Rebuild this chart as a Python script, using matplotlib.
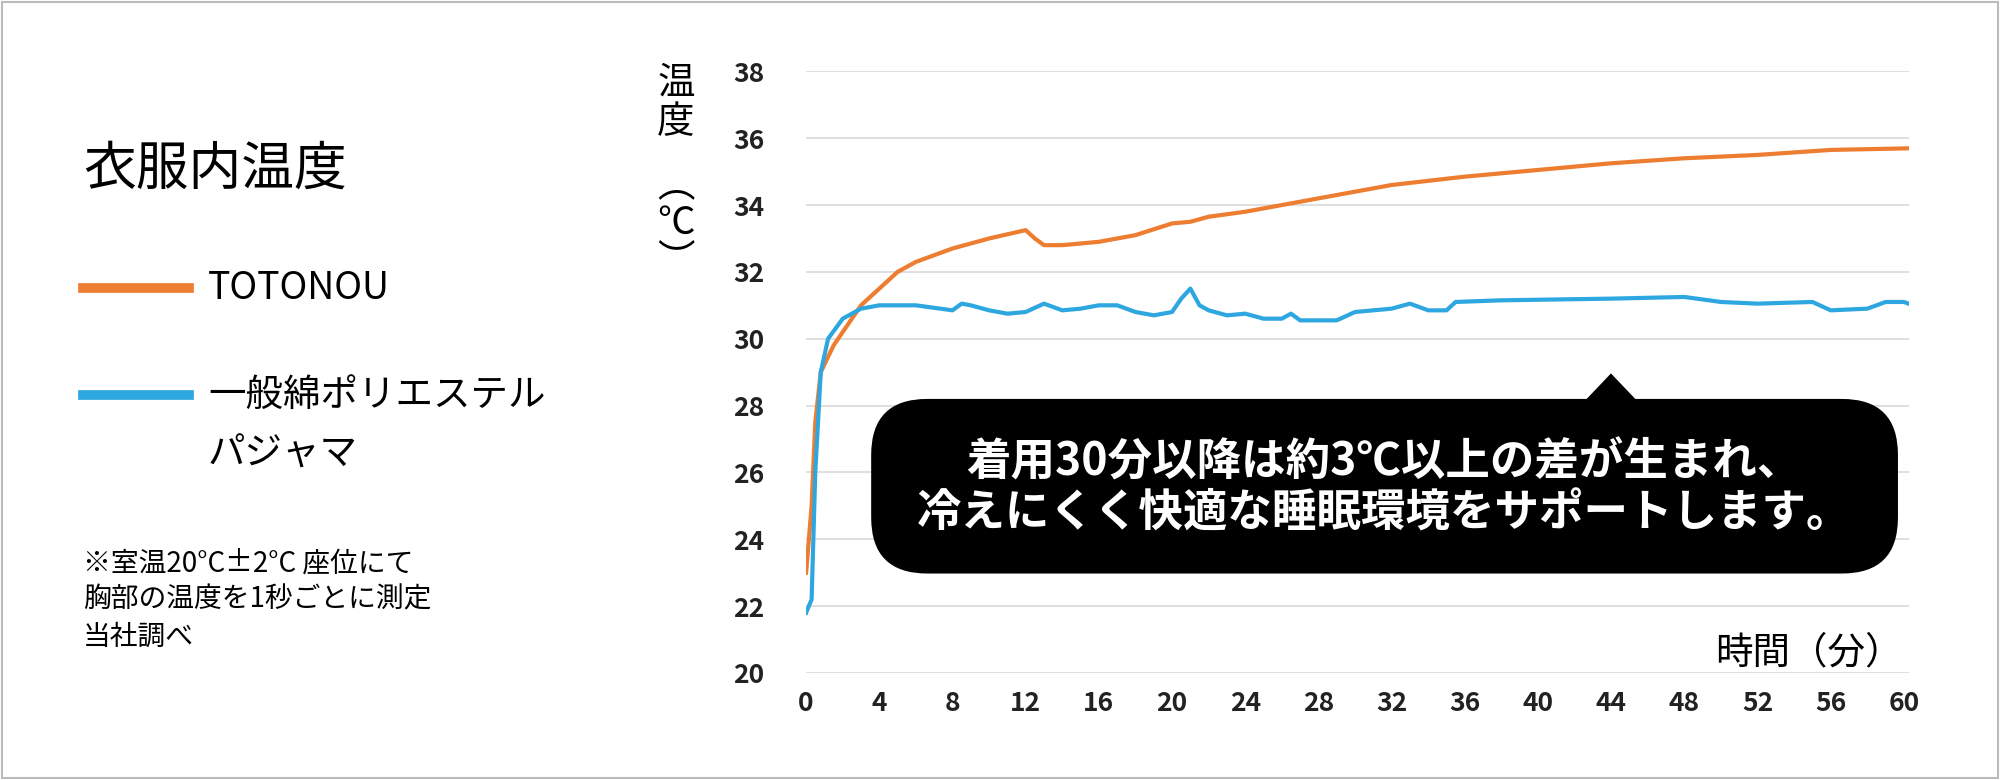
import matplotlib.pyplot as plt
from matplotlib.patches import FancyBboxPatch, Polygon, Rectangle

plt.rcParams['font.family'] = ['Noto Sans CJK JP', 'DejaVu Sans']

# minutes / degC
toto_t = [0, 0.3, 0.5, 0.8, 1.5, 2, 3, 4, 5, 6, 8, 10, 12, 12.5, 13, 14, 16, 18, 20, 21,
          22, 24, 26, 28, 30, 32, 36, 40, 44, 48, 52, 56, 60.5]
toto_v = [23.0, 25.0, 27.5, 29.0, 29.8, 30.2, 31.0, 31.5, 32.0, 32.3, 32.7, 33.0, 33.25, 33.0,
          32.8, 32.8, 32.9, 33.1, 33.45, 33.5, 33.65, 33.8, 34.0, 34.2, 34.4, 34.6, 34.85,
          35.05, 35.25, 35.4, 35.5, 35.65, 35.7]
poly_t = [0, 0.3, 0.5, 0.8, 1.2, 2, 3, 4, 6, 8, 8.5, 9, 10, 11, 12, 13, 14, 15, 16, 17, 18,
          19, 20, 20.5, 21, 21.5, 22, 23, 24, 25, 26, 26.5, 27, 29, 30, 32, 33, 34, 35, 35.5,
          38, 44, 48, 50, 52, 55, 56, 58, 59, 60, 60.5]
poly_v = [21.8, 22.2, 26.0, 29.0, 30.0, 30.6, 30.9, 31.0, 31.0, 30.85, 31.05, 31.0, 30.85,
          30.75, 30.8, 31.05, 30.85, 30.9, 31.0, 31.0, 30.8, 30.7, 30.8, 31.2, 31.5, 31.0,
          30.85, 30.7, 30.75, 30.6, 30.6, 30.75, 30.55, 30.55, 30.8, 30.9, 31.05, 30.85,
          30.85, 31.1, 31.15, 31.2, 31.25, 31.1, 31.05, 31.1, 30.85, 30.9, 31.1, 31.1, 31.0]
xticks = list(range(0, 61, 4))
yticks = list(range(20, 39, 2))

orange = '#ed7d31'
blue = '#2ea7e0'
W, H = 1568, 612

fig = plt.figure(figsize=(20, 7.8), dpi=100)
fig.patches.append(Rectangle((0.001, 0.002), 0.998, 0.996, transform=fig.transFigure,
                             fill=False, edgecolor='#bbbbbb', lw=1.5))

ax = fig.add_axes([632 / W, 1 - 528 / H, (1497 - 632) / W, (528 - 56) / H])
ax.plot(toto_t, toto_v, color=orange, lw=3)
ax.plot(poly_t, poly_v, color=blue, lw=3)
ax.set_xlim(0, 60.3)
ax.set_ylim(20, 38)
ax.set_xticks(xticks)
ax.set_yticks(yticks)
ax.grid(axis='y', color='#d9d9d9', lw=1.2)
ax.set_axisbelow(True)
for s in ax.spines.values():
    s.set_visible(False)
ax.tick_params(length=0, labelsize=19, labelcolor='#222222', pad=12)
for lab in ax.get_xticklabels() + ax.get_yticklabels():
    lab.set_fontweight('bold')
ax.tick_params(axis='y', pad=30)

fig.text(530 / W, 1 - 50 / H, '温\n度', fontsize=27, ha='center', va='top', linespacing=1.0)
fig.text(530 / W, 1 - 175 / H, '︵\n℃\n︶', fontsize=27, ha='center', va='center', linespacing=0.95)
fig.text(1492 / W, 1 - 512 / H, '時間（分）', fontsize=27, ha='right', va='center')

# callout
box = FancyBboxPatch((683 / W, 1 - 450 / H), (1488 - 683) / W, (450 - 313) / H,
                     boxstyle='round,pad=0,rounding_size=0.028', transform=fig.transFigure,
                     facecolor='black', edgecolor='none', mutation_aspect=W / H)
fig.patches.append(box)
fig.patches.append(Polygon([(1243 / W, 1 - 314 / H), (1263 / W, 1 - 293 / H), (1283 / W, 1 - 314 / H)],
                           closed=True, transform=fig.transFigure, facecolor='black', edgecolor='none'))
fig.text(1085 / W, 1 - 383 / H, '着用30分以降は約3℃以上の差が生まれ、\n冷えにくく快適な睡眠環境をサポートします。',
         color='white', fontsize=32, fontweight='bold', ha='center', va='center', linespacing=1.15)

# left legend panel
fig.text(65 / W, 1 - 133 / H, '衣服内温度', fontsize=38, va='center')
fig.lines.append(plt.Line2D([65 / W, 148 / W], [1 - 226 / H] * 2, color=orange, lw=7, transform=fig.transFigure))
fig.text(163 / W, 1 - 226 / H, 'TOTONOU', fontsize=27, va='center')
fig.lines.append(plt.Line2D([65 / W, 148 / W], [1 - 310 / H] * 2, color=blue, lw=7, transform=fig.transFigure))
fig.text(163 / W, 1 - 310 / H, '一般綿ポリエステル', fontsize=27, va='center')
fig.text(163 / W, 1 - 356 / H, 'パジャマ', fontsize=27, va='center')
fig.text(65 / W, 1 - 430 / H, '※室温20°C±2°C 座位にて\n胸部の温度を1秒ごとに測定\n当社調べ',
         fontsize=20, va='top', linespacing=1.3)

fig.savefig('out.png', dpi=100, facecolor='white')
